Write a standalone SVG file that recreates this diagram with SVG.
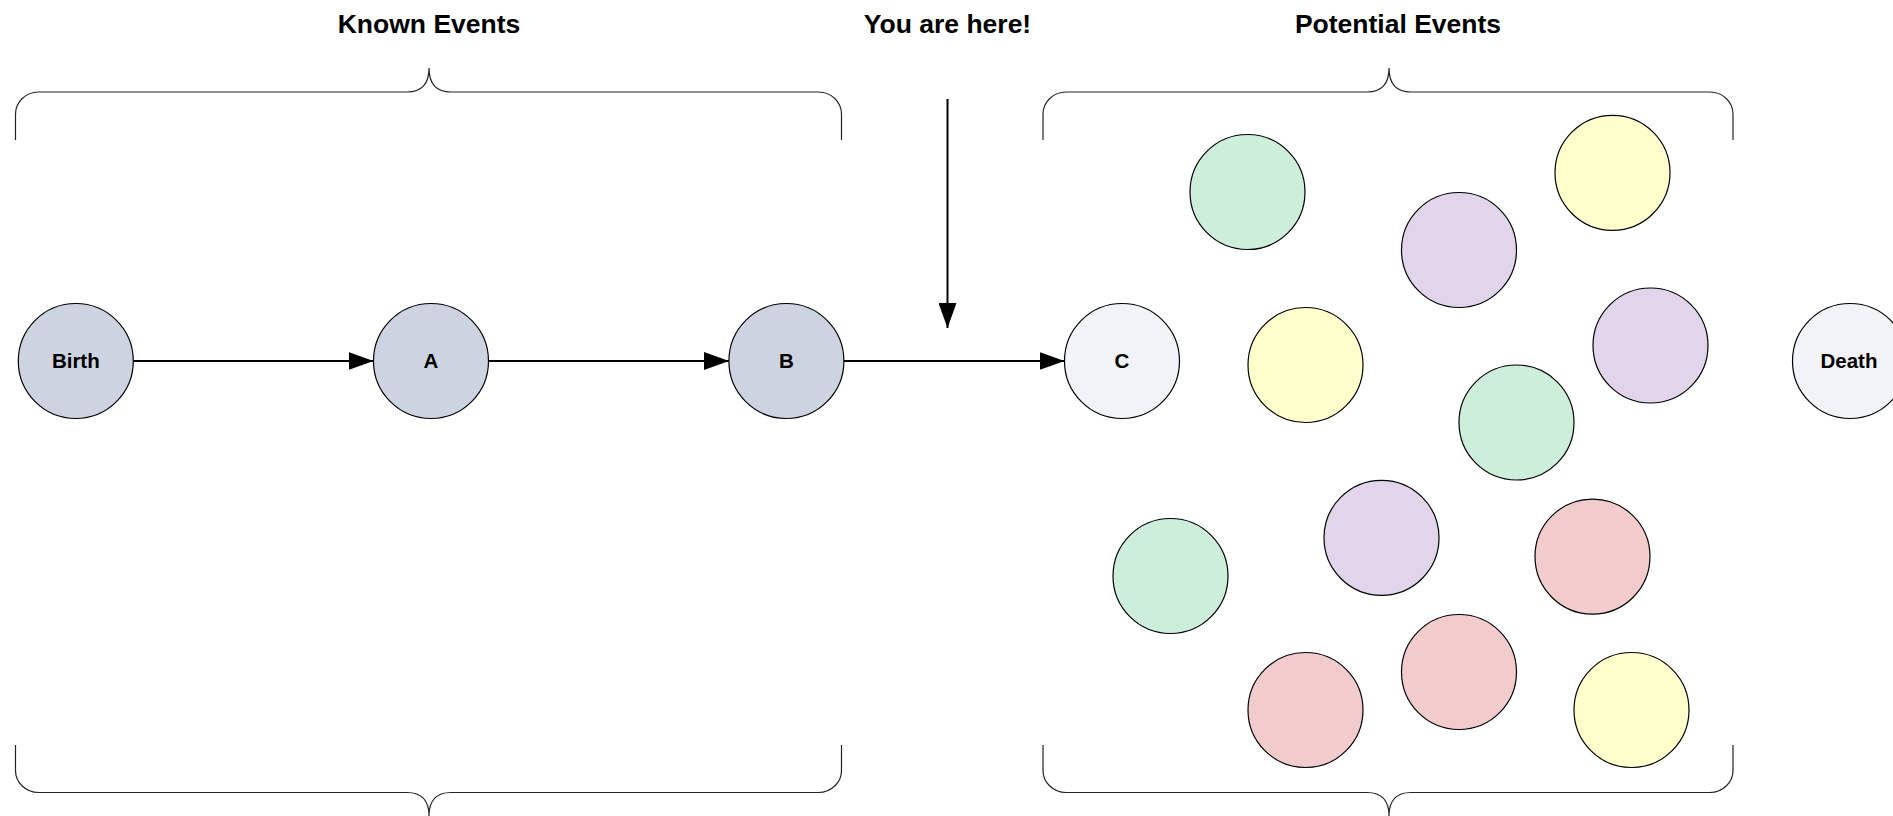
<svg xmlns="http://www.w3.org/2000/svg" width="1893" height="816" viewBox="0 0 1893 816">
<style>
.node{stroke:#000;stroke-width:1.2}
.known{fill:#CDD3E0}
.future{fill:#F2F3F8}
.green{fill:#CCEEDB}
.yellow{fill:#FFFFCC}
.purple{fill:#E1D5EB}
.red{fill:#F2CCCC}
.lbl{font-family:"Liberation Sans",Arial,sans-serif;font-weight:bold;font-size:20.5px;text-anchor:middle;fill:#000}
.title{font-family:"Liberation Sans",Arial,sans-serif;font-weight:bold;font-size:26.5px;text-anchor:middle;fill:#000}
.brace{fill:none;stroke:#222;stroke-width:1.2}
.edge{fill:none;stroke:#000;stroke-width:2}
</style>
<defs>
<marker id="arrow" markerUnits="userSpaceOnUse" markerWidth="26" markerHeight="18" refX="25" refY="9" orient="auto">
<path d="M0,0 L25,9 L0,18 Z" fill="#000"/>
</marker>
</defs>
<rect width="1893" height="816" fill="#fff"/>

<g id="titles">
<text class="title" x="429" y="33">Known Events</text>
<text class="title" x="947.5" y="33">You are here!</text>
<text class="title" x="1398" y="33">Potential Events</text>
</g>

<g id="braces">
<path class="brace" d="M15.5,140 V114 A23,22 0 0 1 38.5,92 H407 Q429,92 429,68 Q429,92 451,92 H818.5 A23,22 0 0 1 841.5,114 V140"/>
<path class="brace" d="M15.5,745 V770.5 A23,22 0 0 0 38.5,792.5 H407 Q429,792.5 429,816 Q429,792.5 451,792.5 H818.5 A23,22 0 0 0 841.5,770.5 V745"/>
<path class="brace" d="M1043,140 V114 A23,22 0 0 1 1066,92 H1367 Q1389,92 1389,68 Q1389,92 1411,92 H1710 A23,22 0 0 1 1733,114 V140"/>
<path class="brace" d="M1043,745 V770.5 A23,22 0 0 0 1066,792.5 H1367 Q1389,792.5 1389,816 Q1389,792.5 1411,792.5 H1710 A23,22 0 0 0 1733,770.5 V745"/>
</g>

<g id="connectors">
<line class="edge" x1="133.5" y1="361" x2="373.5" y2="361" marker-end="url(#arrow)"/>
<line class="edge" x1="488.5" y1="361" x2="729" y2="361" marker-end="url(#arrow)"/>
<line class="edge" x1="844" y1="361" x2="1064.5" y2="361" marker-end="url(#arrow)"/>
<line class="edge" x1="947.5" y1="99" x2="947.5" y2="328" marker-end="url(#arrow)"/>
</g>

<g id="node-birth"><circle class="node known" cx="75.8" cy="361" r="57.5"/><text class="lbl" x="75.8" y="368">Birth</text></g>
<g id="node-a"><circle class="node known" cx="431" cy="361" r="57.5"/><text class="lbl" x="431" y="368">A</text></g>
<g id="node-b"><circle class="node known" cx="786.4" cy="361" r="57.5"/><text class="lbl" x="786.4" y="368">B</text></g>
<g id="node-c"><circle class="node future" cx="1122" cy="361" r="57.5"/><text class="lbl" x="1122" y="368">C</text></g>
<g id="node-death"><circle class="node future" cx="1850" cy="361" r="57.5"/><text class="lbl" x="1849" y="368">Death</text></g>

<g id="potential-1"><circle class="node green" cx="1247.5" cy="192" r="57.5"/></g>
<g id="potential-2"><circle class="node yellow" cx="1612.5" cy="172.8" r="57.5"/></g>
<g id="potential-3"><circle class="node purple" cx="1459" cy="250" r="57.5"/></g>
<g id="potential-4"><circle class="node yellow" cx="1305.5" cy="365" r="57.5"/></g>
<g id="potential-5"><circle class="node purple" cx="1650.5" cy="345.5" r="57.5"/></g>
<g id="potential-6"><circle class="node green" cx="1516.5" cy="422.5" r="57.5"/></g>
<g id="potential-7"><circle class="node purple" cx="1381.5" cy="537.8" r="57.5"/></g>
<g id="potential-8"><circle class="node green" cx="1170.5" cy="576" r="57.5"/></g>
<g id="potential-9"><circle class="node red" cx="1592.5" cy="556.6" r="57.5"/></g>
<g id="potential-10"><circle class="node red" cx="1305.5" cy="710" r="57.5"/></g>
<g id="potential-11"><circle class="node red" cx="1459" cy="672" r="57.5"/></g>
<g id="potential-12"><circle class="node yellow" cx="1631.5" cy="710" r="57.5"/></g>
</svg>
